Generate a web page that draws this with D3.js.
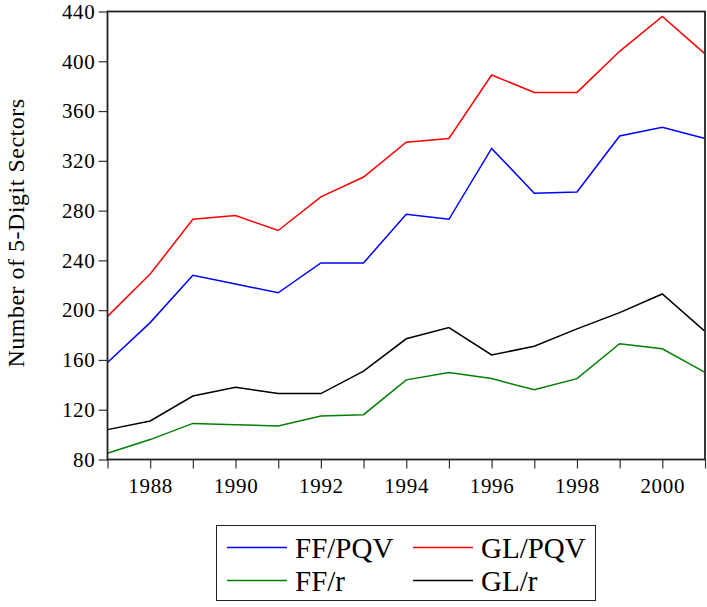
<!DOCTYPE html>
<html>
<head>
<meta charset="utf-8">
<script src="https://cdn.jsdelivr.net/npm/d3@7"></script>
<style>
    body { margin: 0; background: #fff; }
    svg { display: block; font-family: "Liberation Serif", "Times New Roman", serif; }
</style>
</head>
<body>
<div id="chart"></div>
<script>
var years = d3.range(1987, 2002),
    ffPqv = [158, 190, 228, 221, 214, 238, 238, 277, 273, 330, 294, 295, 340, 347, 338],
    glPqv = [195, 229, 273, 276, 264, 291, 307, 335, 338, 389, 375, 375, 408, 436, 406],
    ffR = [85, 96, 109, 108, 107, 115, 116, 144, 150, 145, 136, 145, 173, 169, 150],
    glR = [104, 111, 131, 138, 133, 133, 151, 177, 186, 164, 171, 185, 198, 213, 183],
    yTicks = [80, 120, 160, 200, 240, 280, 320, 360, 400, 440],
    xTicks = [1988, 1990, 1992, 1994, 1996, 1998, 2000];

var series = [
    { name: 'FF/PQV', values: ffPqv, color: '#0000ff' },
    { name: 'GL/PQV', values: glPqv, color: '#ff0000' },
    { name: 'FF/r', values: ffR, color: '#008000' },
    { name: 'GL/r', values: glR, color: '#000000' }
];

var width = 707, height = 607,
    plotLeft = 107.5, plotRight = 705, plotTop = 11.5, plotBottom = 459.5;

var svg = d3.select('#chart').append('svg')
    .attr('width', width)
    .attr('height', height);

var x = d3.scaleLinear().domain([1987, 2001]).range([plotLeft, plotRight]);
var y = d3.scaleLinear().domain([80, 440]).range([plotBottom, plotTop]);

// Axes
svg.append('g')
    .attr('transform', 'translate(' + plotLeft + ',0)')
    .call(d3.axisLeft(y).tickValues(yTicks).tickSize(9).tickPadding(3))
    .call(g => g.select('.domain').remove())
    .call(g => g.selectAll('line').attr('stroke', '#333').attr('stroke-width', 1.2))
    .call(g => g.selectAll('text').attr('font-size', 21).attr('fill', '#000')
        .attr('letter-spacing', 0.7)
        .attr('font-family', '"Liberation Serif", "Times New Roman", serif'));

svg.append('g')
    .attr('transform', 'translate(0,' + plotBottom + ')')
    .call(d3.axisBottom(x).tickValues(years).tickSize(9).tickPadding(10)
        .tickFormat(d => xTicks.includes(d) ? d : ''))
    .call(g => g.select('.domain').remove())
    .call(g => g.selectAll('line').attr('stroke', '#333').attr('stroke-width', 1.2))
    .call(g => g.selectAll('text').attr('font-size', 21).attr('fill', '#000')
        .attr('letter-spacing', 0.7)
        .attr('font-family', '"Liberation Serif", "Times New Roman", serif'));

// Lines
var line = d3.line()
    .x((d, i) => x(years[i]))
    .y(d => y(d));

svg.append('g')
    .selectAll('path')
    .data(series)
    .enter().append('path')
    .attr('d', s => line(s.values))
    .attr('fill', 'none')
    .attr('stroke', s => s.color)
    .attr('stroke-width', 1.5);

// Frame
svg.append('rect')
    .attr('x', plotLeft)
    .attr('y', plotTop)
    .attr('width', plotRight - plotLeft)
    .attr('height', plotBottom - plotTop)
    .attr('fill', 'none')
    .attr('stroke', '#222')
    .attr('stroke-width', 1.8);

// Y label
svg.append('text')
    .attr('transform', 'translate(24,233) rotate(-90)')
    .attr('text-anchor', 'middle')
    .attr('font-size', 24)
    .attr('letter-spacing', 0.5)
    .text('Number of 5-Digit Sectors');

// Legend
var legend = svg.append('g');
legend.append('rect')
    .attr('x', 216.5)
    .attr('y', 525.5)
    .attr('width', 379)
    .attr('height', 75)
    .attr('fill', 'none')
    .attr('stroke', '#222')
    .attr('stroke-width', 1);

var items = legend.selectAll('g.item')
    .data(series)
    .enter().append('g')
    .attr('class', 'item')
    .attr('transform', (s, i) => 'translate(' + (i % 2 ? 413 : 227) + ',' + (i < 2 ? 547.5 : 580.5) + ')');

items.append('line')
    .attr('x1', 0)
    .attr('x2', 60)
    .attr('stroke', s => s.color)
    .attr('stroke-width', 1.5);

items.append('text')
    .attr('x', 68)
    .attr('y', 10.5)
    .attr('font-size', 29)
    .text(s => s.name);
</script>
</body>
</html>
